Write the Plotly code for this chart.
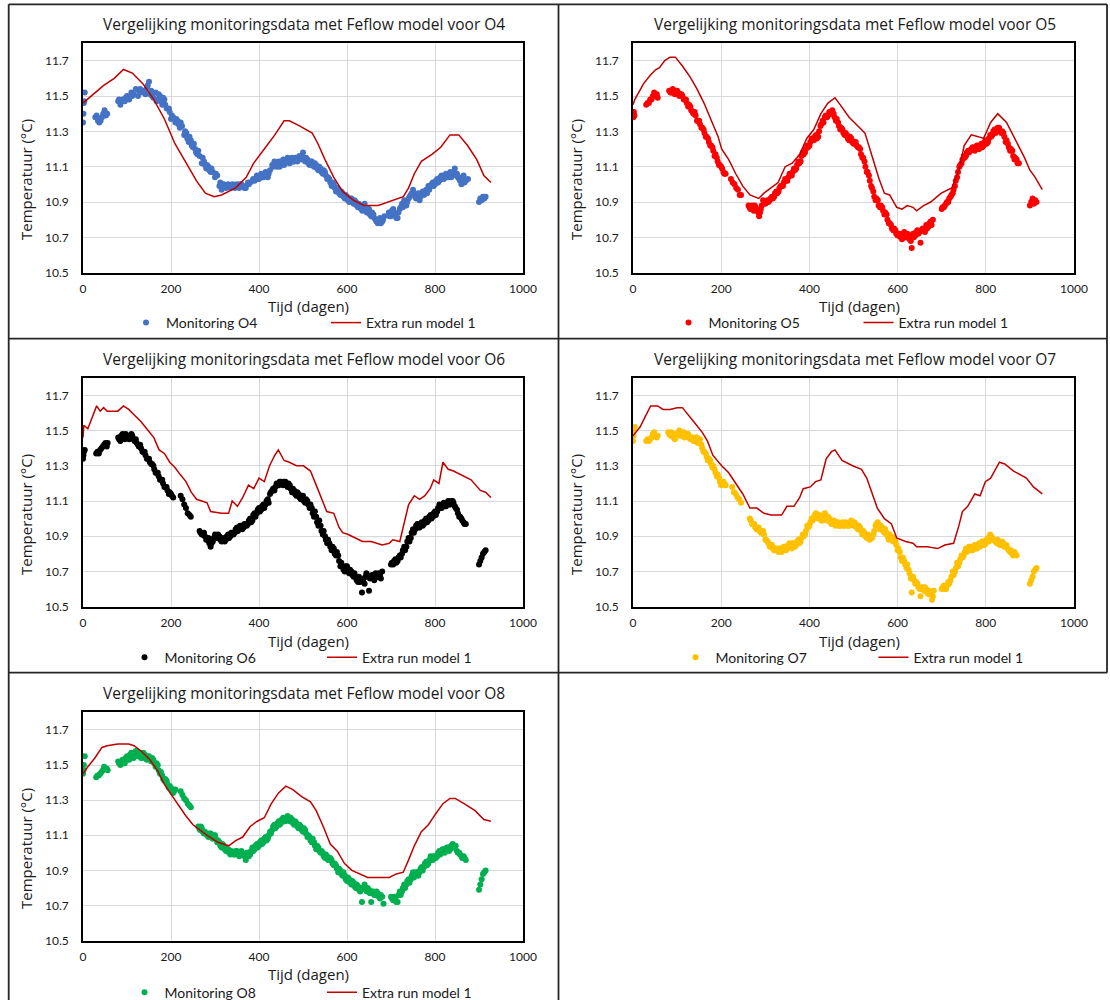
import plotly.graph_objects as go

# ---------------------------------------------------------------------------
# Data: (day, temperature in degC)
# ---------------------------------------------------------------------------
STATIONS = ["O4", "O5", "O6", "O7", "O8"]
MONITOR_COLORS = ["#4472C4", "#FF0000", "#000000", "#FFC000", "#00B050"]
MODEL_NAME = "Extra run model 1"
MODEL_COLOR = "#C00000"

X_TICKS = [0, 200, 400, 600, 800, 1000]
Y_TICKS = [10.5, 10.7, 10.9, 11.1, 11.3, 11.5, 11.7]

O4_MONITORING = [
    (0, 11.35), (1, 11.40), (2, 11.46), (3, 11.47), (4, 11.52),
    (28, 11.38), (31, 11.39), (34, 11.36), (37, 11.35), (40, 11.36), (43, 11.38),
    (46, 11.40), (49, 11.42), (52, 11.39), (55, 11.40),
    (80, 11.47), (85, 11.45), (90, 11.48), (95, 11.47), (100, 11.50), (105, 11.48),
    (110, 11.52), (115, 11.51), (120, 11.54), (125, 11.50), (130, 11.54), (135, 11.52),
    (140, 11.53), (145, 11.55), (150, 11.58), (153, 11.51), (155, 11.53), (160, 11.49),
    (165, 11.52), (170, 11.48), (175, 11.50), (180, 11.45), (185, 11.48), (190, 11.43),
    (195, 11.43), (200, 11.37), (205, 11.38), (210, 11.35), (215, 11.36), (220, 11.32),
    (225, 11.33), (230, 11.28), (235, 11.29), (240, 11.24), (245, 11.25), (250, 11.21),
    (255, 11.20), (260, 11.17), (265, 11.16), (270, 11.12), (275, 11.13), (280, 11.09),
    (285, 11.10), (290, 11.07), (295, 11.07), (300, 11.04), (305, 11.05), (310, 10.99),
    (315, 10.97), (320, 11.00), (325, 10.98), (330, 11.00), (335, 10.98), (340, 11.00),
    (345, 10.98), (350, 11.00), (355, 10.98), (360, 11.00), (365, 10.99), (370, 10.98),
    (375, 11.01), (380, 11.01), (385, 11.02), (390, 11.02), (395, 11.05), (400, 11.03),
    (405, 11.06), (410, 11.04), (415, 11.07), (420, 11.04), (425, 11.08), (430, 11.11),
    (435, 11.13), (440, 11.10), (445, 11.13), (450, 11.11), (455, 11.14), (460, 11.12),
    (465, 11.15), (470, 11.12), (475, 11.15), (480, 11.13), (485, 11.15), (490, 11.14),
    (495, 11.16), (500, 11.18), (505, 11.13), (510, 11.14), (515, 11.11), (520, 11.13),
    (525, 11.10), (530, 11.11), (535, 11.08), (540, 11.09), (545, 11.06), (550, 11.07),
    (555, 11.03), (560, 11.03), (565, 10.99), (570, 11.00), (575, 10.96), (580, 10.97),
    (585, 10.94), (590, 10.95), (595, 10.92), (600, 10.93), (605, 10.90), (610, 10.92),
    (615, 10.89), (620, 10.90), (625, 10.87), (630, 10.88), (635, 10.85), (640, 10.89),
    (645, 10.84), (650, 10.86), (655, 10.82), (660, 10.83), (665, 10.80), (670, 10.78),
    (675, 10.81), (680, 10.79), (685, 10.82),
    (695, 10.84), (700, 10.82), (705, 10.86), (710, 10.83), (715, 10.81), (720, 10.86),
    (725, 10.89), (730, 10.91), (735, 10.88), (740, 10.92), (745, 10.94), (750, 10.97),
    (755, 10.93), (760, 10.94), (765, 10.91), (770, 10.95), (775, 10.94), (780, 10.97),
    (785, 10.99), (790, 10.99), (795, 11.01), (800, 11.00), (805, 11.03), (810, 11.02),
    (815, 11.05), (820, 11.03), (825, 11.06), (830, 11.04), (835, 11.07), (840, 11.05),
    (845, 11.09), (850, 11.06), (855, 11.03), (860, 11.00), (865, 11.05), (870, 11.02),
    (875, 11.03),
    (900, 10.90), (903, 10.92), (906, 10.91), (909, 10.93), (912, 10.92), (915, 10.93),
    # in-between readings
    (82, 11.48), (97, 11.49), (112, 11.50), (127, 11.53), (142, 11.51), (147, 11.56),
    (157, 11.50), (167, 11.47), (172, 11.51), (177, 11.47), (182, 11.49), (187, 11.45),
    (197, 11.41), (202, 11.39), (212, 11.37), (217, 11.34), (222, 11.35), (232, 11.30),
    (237, 11.26), (242, 11.27), (247, 11.22), (252, 11.23), (257, 11.18), (262, 11.19),
    (272, 11.15), (277, 11.11), (282, 11.11), (287, 11.08), (292, 11.09), (302, 11.06),
    (312, 11.01), (317, 10.99), (327, 10.99), (337, 10.99), (347, 10.99), (357, 11.00),
    (367, 10.98), (377, 11.00), (387, 11.03), (397, 11.03), (407, 11.04), (417, 11.05),
    (422, 11.06), (432, 11.10), (437, 11.11), (442, 11.12), (447, 11.10), (452, 11.13),
    (457, 11.11), (462, 11.14), (467, 11.13), (472, 11.14), (477, 11.13), (482, 11.15),
    (487, 11.13), (492, 11.16), (497, 11.14), (502, 11.15), (507, 11.15), (512, 11.12),
    (517, 11.13), (522, 11.11), (527, 11.12), (532, 11.09), (537, 11.10), (542, 11.07),
    (547, 11.08), (552, 11.05), (557, 11.04), (562, 11.01), (567, 11.01), (572, 10.98),
    (577, 10.98), (582, 10.95), (587, 10.96), (592, 10.93), (597, 10.94), (602, 10.91),
    (607, 10.92), (612, 10.90), (617, 10.91), (622, 10.88), (627, 10.89), (632, 10.86),
    (637, 10.88), (642, 10.85), (647, 10.86), (652, 10.83), (657, 10.84), (662, 10.81),
    (667, 10.79), (672, 10.80), (677, 10.78), (682, 10.80), (697, 10.82), (702, 10.85),
    (707, 10.84), (712, 10.81), (717, 10.84), (722, 10.87), (727, 10.87), (732, 10.89),
    (737, 10.90), (742, 10.93), (747, 10.95), (752, 10.95), (757, 10.92), (762, 10.95),
    (767, 10.93), (772, 10.96), (777, 10.96), (782, 10.95), (787, 10.97), (792, 11.00),
    (797, 10.99), (802, 11.02), (807, 11.01), (812, 11.04), (817, 11.03), (822, 11.05),
    (827, 11.04), (832, 11.06), (837, 11.04), (842, 11.07), (847, 11.06), (852, 11.04),
    (857, 11.02), (862, 11.04), (867, 11.01),
]

O4_MODEL = [
    (0, 11.46), (47, 11.56), (71, 11.60), (92, 11.65), (112, 11.63), (136, 11.57),
    (161, 11.48), (185, 11.37), (209, 11.23), (234, 11.12), (258, 11.02), (278, 10.95),
    (298, 10.93), (315, 10.94), (347, 10.98), (371, 11.04), (388, 11.12), (412, 11.20),
    (436, 11.28), (457, 11.36), (469, 11.36), (493, 11.33), (521, 11.29), (534, 11.23),
    (550, 11.14), (570, 11.04), (590, 10.96), (615, 10.91), (639, 10.88), (671, 10.88),
    (696, 10.90), (728, 10.93), (740, 10.98), (753, 11.06), (769, 11.13), (793, 11.17),
    (813, 11.21), (834, 11.28), (854, 11.28), (874, 11.22), (895, 11.14), (911, 11.05),
    (927, 11.01),
]

O5_MONITORING = [
    (0, 11.40), (1, 11.38), (2, 11.41), (3, 11.39),
    (30, 11.45), (33, 11.46), (36, 11.46), (39, 11.48), (42, 11.48), (45, 11.50),
    (48, 11.52), (51, 11.50), (54, 11.51), (56, 11.49),
    (82, 11.53), (85, 11.52), (90, 11.54), (95, 11.51), (100, 11.53), (105, 11.50),
    (110, 11.51), (115, 11.48), (120, 11.48), (125, 11.44), (130, 11.44), (135, 11.41),
    (140, 11.41), (145, 11.36), (150, 11.36), (155, 11.32), (160, 11.31), (165, 11.27),
    (170, 11.26), (175, 11.22), (180, 11.21), (185, 11.16), (190, 11.15), (195, 11.11),
    (200, 11.10), (205, 11.07), (210, 11.06),
    (222, 11.03), (226, 11.01), (230, 11.00), (234, 10.98), (238, 10.97), (242, 10.94),
    (245, 10.94),
    (262, 10.88), (266, 10.86), (270, 10.88), (274, 10.85), (278, 10.87), (282, 10.85),
    (286, 10.82), (290, 10.86), (295, 10.91), (300, 10.89), (305, 10.91), (310, 10.91),
    (315, 10.93), (320, 10.93), (325, 10.96), (330, 10.96), (335, 10.99), (340, 10.99),
    (345, 11.03), (350, 11.02), (355, 11.06), (360, 11.05), (365, 11.09), (370, 11.09),
    (375, 11.13), (380, 11.13), (385, 11.18), (390, 11.18), (395, 11.22), (400, 11.22),
    (405, 11.26), (410, 11.25), (415, 11.28), (420, 11.27), (425, 11.33), (430, 11.36),
    (435, 11.38), (440, 11.38), (445, 11.41), (450, 11.40), (455, 11.40), (460, 11.36),
    (465, 11.35), (470, 11.31), (475, 11.31), (480, 11.28), (485, 11.28), (490, 11.25),
    (495, 11.26), (500, 11.23), (505, 11.24), (510, 11.21), (515, 11.20), (520, 11.15),
    (525, 11.13), (530, 11.07), (535, 11.05), (540, 10.99), (545, 10.96), (550, 10.91),
    (555, 10.91), (560, 10.87), (565, 10.87), (570, 10.83), (575, 10.83), (580, 10.78),
    (585, 10.77), (590, 10.74), (595, 10.74), (600, 10.71), (605, 10.72), (610, 10.69),
    (615, 10.73), (620, 10.70), (625, 10.71), (630, 10.68), (632, 10.64), (635, 10.72),
    (640, 10.71), (645, 10.74), (650, 10.73), (652, 10.67), (655, 10.74), (660, 10.74),
    (665, 10.77), (670, 10.76), (675, 10.79), (680, 10.80),
    (700, 10.86), (705, 10.87), (710, 10.89), (715, 10.90), (720, 10.93), (725, 10.95),
    (730, 10.99), (735, 11.04), (740, 11.10), (745, 11.12), (750, 11.16), (755, 11.16),
    (760, 11.19), (765, 11.19), (770, 11.21), (775, 11.19), (780, 11.22), (785, 11.20),
    (790, 11.23), (795, 11.22), (800, 11.25), (805, 11.24), (810, 11.28), (815, 11.28),
    (820, 11.31), (825, 11.30), (830, 11.32), (835, 11.29), (840, 11.29), (845, 11.24),
    (850, 11.23), (855, 11.19), (860, 11.19), (865, 11.14), (870, 11.14), (875, 11.12),
    (900, 10.88), (903, 10.90), (906, 10.92), (909, 10.89), (912, 10.91), (915, 10.90),
    # in-between readings
    (87, 11.52), (92, 11.53), (97, 11.53), (102, 11.52), (107, 11.51), (112, 11.50),
    (117, 11.48), (122, 11.46), (127, 11.45), (132, 11.42), (137, 11.40), (142, 11.39),
    (147, 11.36), (152, 11.34), (157, 11.32), (162, 11.29), (167, 11.27), (172, 11.24),
    (177, 11.22), (182, 11.19), (187, 11.17), (192, 11.13), (197, 11.11), (202, 11.09),
    (207, 11.06),
    (264, 10.87), (268, 10.87), (272, 10.86), (276, 10.88), (280, 10.86), (284, 10.84),
    (288, 10.84), (292, 10.88), (297, 10.90), (302, 10.90), (307, 10.90), (312, 10.92),
    (317, 10.92), (322, 10.95), (327, 10.95), (332, 10.98), (337, 10.99), (342, 11.01),
    (347, 11.02), (352, 11.04), (357, 11.05), (362, 11.07), (367, 11.08), (372, 11.11),
    (377, 11.12), (382, 11.16), (387, 11.17), (392, 11.20), (397, 11.21), (402, 11.24),
    (407, 11.25), (412, 11.27), (417, 11.26), (422, 11.30), (427, 11.34), (432, 11.35),
    (437, 11.39), (442, 11.39), (447, 11.40), (452, 11.42), (457, 11.38), (462, 11.37),
    (467, 11.33), (472, 11.32), (477, 11.29), (482, 11.29), (487, 11.26), (492, 11.27),
    (497, 11.24), (502, 11.24), (507, 11.22), (512, 11.21), (517, 11.17), (522, 11.15),
    (527, 11.10), (532, 11.07), (537, 11.02), (542, 10.98), (547, 10.93), (552, 10.92),
    (557, 10.88), (562, 10.88), (567, 10.85), (572, 10.84), (577, 10.80), (582, 10.78),
    (587, 10.75), (592, 10.75), (597, 10.72), (602, 10.72), (607, 10.70), (612, 10.71),
    (617, 10.70), (622, 10.72), (627, 10.69), (637, 10.70), (642, 10.73), (647, 10.72),
    (657, 10.75), (662, 10.73), (667, 10.75), (672, 10.78), (677, 10.77),
    (702, 10.87), (707, 10.88), (712, 10.90), (717, 10.92), (722, 10.94), (727, 10.97),
    (732, 11.02), (737, 11.07), (742, 11.11), (747, 11.14), (752, 11.15), (757, 11.18),
    (762, 11.18), (767, 11.20), (772, 11.20), (777, 11.21), (782, 11.20), (787, 11.22),
    (792, 11.21), (797, 11.24), (802, 11.23), (807, 11.26), (812, 11.27), (817, 11.30),
    (822, 11.29), (827, 11.32), (832, 11.30), (837, 11.30), (842, 11.27), (847, 11.25),
    (852, 11.21), (857, 11.20), (862, 11.16), (867, 11.15), (872, 11.12),
]

O5_MODEL = [
    (0, 11.45), (4, 11.48), (24, 11.57), (40, 11.62), (52, 11.65), (60, 11.66),
    (72, 11.70), (84, 11.72), (96, 11.72), (112, 11.67), (129, 11.61), (145, 11.54),
    (161, 11.46), (177, 11.37), (193, 11.27), (201, 11.20), (217, 11.14), (233, 11.06),
    (249, 10.99), (265, 10.94), (277, 10.93), (285, 10.92), (297, 10.95), (313, 10.98),
    (329, 11.01), (345, 11.10), (361, 11.12), (378, 11.17), (394, 11.26), (410, 11.31),
    (426, 11.40), (442, 11.46), (458, 11.49), (470, 11.45), (490, 11.38), (514, 11.32),
    (526, 11.29), (542, 11.16), (558, 11.03), (570, 10.95), (582, 10.94), (598, 10.87),
    (610, 10.86), (622, 10.88), (635, 10.87), (643, 10.85), (659, 10.88), (675, 10.90),
    (699, 10.95), (723, 10.98), (739, 11.08), (751, 11.22), (767, 11.28), (783, 11.27),
    (795, 11.26), (811, 11.35), (827, 11.40), (847, 11.35), (867, 11.25), (888, 11.15),
    (900, 11.08), (912, 11.04), (928, 10.97),
]

O6_MONITORING = [
    (0, 11.34), (1, 11.36), (2, 11.38), (4, 11.39),
    (30, 11.37), (33, 11.38), (36, 11.37), (39, 11.39), (42, 11.40), (45, 11.41),
    (48, 11.42), (51, 11.43), (54, 11.41), (56, 11.43),
    (80, 11.46), (85, 11.44), (90, 11.48), (95, 11.45), (100, 11.47), (105, 11.45),
    (110, 11.48), (115, 11.45), (120, 11.45), (125, 11.42), (130, 11.42), (135, 11.38),
    (140, 11.38), (145, 11.34), (150, 11.34), (155, 11.31), (160, 11.30), (165, 11.26),
    (170, 11.26), (175, 11.22), (180, 11.22), (185, 11.18), (190, 11.18), (195, 11.14),
    (200, 11.14), (205, 11.12),
    (222, 11.13), (226, 11.11), (230, 11.08), (234, 11.06), (238, 11.03), (242, 11.02),
    (245, 11.01),
    (265, 10.93), (270, 10.91), (275, 10.92), (280, 10.88), (285, 10.89), (290, 10.84),
    (295, 10.87), (300, 10.91), (305, 10.89), (310, 10.90), (315, 10.87), (320, 10.88),
    (325, 10.88), (330, 10.91), (335, 10.90), (340, 10.92), (345, 10.92), (350, 10.95),
    (355, 10.94), (360, 10.96), (365, 10.95), (370, 10.97), (375, 10.97), (380, 11.00),
    (385, 10.99), (390, 11.03), (395, 11.03), (400, 11.06), (405, 11.05), (410, 11.08),
    (415, 11.08), (420, 11.11), (425, 11.14), (430, 11.16), (435, 11.16), (440, 11.20),
    (445, 11.19), (450, 11.21), (455, 11.19), (460, 11.21), (465, 11.18), (470, 11.19),
    (475, 11.15), (480, 11.16), (485, 11.13), (490, 11.14), (495, 11.11), (500, 11.13),
    (505, 11.09), (510, 11.10), (515, 11.06), (520, 11.06), (525, 11.01), (530, 11.01),
    (535, 10.96), (540, 10.96), (545, 10.91), (550, 10.90), (555, 10.86), (560, 10.86),
    (565, 10.82), (570, 10.83), (575, 10.79), (580, 10.79), (585, 10.73), (590, 10.73),
    (595, 10.70), (600, 10.73), (605, 10.69), (610, 10.70), (615, 10.67), (620, 10.67),
    (625, 10.64), (630, 10.64), (634, 10.58), (638, 10.66), (642, 10.67), (646, 10.68),
    (650, 10.59), (655, 10.67), (660, 10.66), (665, 10.69), (670, 10.67), (675, 10.68),
    (680, 10.70),
    (700, 10.74), (705, 10.74), (710, 10.77), (715, 10.76), (720, 10.79), (725, 10.80),
    (730, 10.84), (735, 10.84), (740, 10.89), (745, 10.89), (750, 10.94), (755, 10.94),
    (760, 10.97), (765, 10.95), (770, 10.98), (775, 10.97), (780, 11.00), (785, 10.99),
    (790, 11.02), (795, 11.01), (800, 11.04), (805, 11.04), (810, 11.08), (815, 11.06),
    (820, 11.09), (825, 11.07), (830, 11.10), (835, 11.08), (840, 11.10), (845, 11.07),
    (850, 11.05), (855, 11.01), (860, 11.00), (865, 10.98), (870, 10.97),
    (900, 10.74), (903, 10.76), (906, 10.78), (909, 10.80), (912, 10.81), (915, 10.82),
    # in-between readings
    (82, 11.45), (87, 11.47), (92, 11.46), (97, 11.48), (102, 11.46), (107, 11.47),
    (112, 11.47), (117, 11.44), (122, 11.43), (127, 11.41), (132, 11.40), (137, 11.38),
    (142, 11.36), (147, 11.34), (152, 11.32), (157, 11.31), (162, 11.28), (167, 11.26),
    (172, 11.24), (177, 11.22), (182, 11.20), (187, 11.18), (192, 11.16), (197, 11.15),
    (202, 11.13),
    (267, 10.92), (272, 10.91), (277, 10.90), (282, 10.88), (287, 10.86), (292, 10.86),
    (297, 10.89), (302, 10.90), (307, 10.91), (312, 10.88), (317, 10.89), (322, 10.87),
    (327, 10.90), (332, 10.89), (337, 10.92), (342, 10.91), (347, 10.94), (352, 10.93),
    (357, 10.96), (362, 10.94), (367, 10.97), (372, 10.96), (377, 10.99), (382, 10.98),
    (387, 11.02), (392, 11.01), (397, 11.05), (402, 11.04), (407, 11.07), (412, 11.06),
    (417, 11.10), (422, 11.09), (427, 11.15), (432, 11.17), (437, 11.18), (442, 11.19),
    (447, 11.21), (452, 11.20), (457, 11.21), (462, 11.19), (467, 11.20), (472, 11.17),
    (477, 11.17), (482, 11.14), (487, 11.15), (492, 11.12), (497, 11.13), (502, 11.10),
    (507, 11.11), (512, 11.08), (517, 11.08), (522, 11.03), (527, 11.04), (532, 10.98),
    (537, 10.99), (542, 10.93), (547, 10.93), (552, 10.88), (557, 10.88), (562, 10.84),
    (567, 10.84), (572, 10.80), (577, 10.81), (582, 10.76), (587, 10.75), (592, 10.71),
    (597, 10.73), (602, 10.70), (607, 10.71), (612, 10.68), (617, 10.69), (622, 10.65),
    (627, 10.67), (632, 10.65), (640, 10.63), (644, 10.69), (652, 10.66), (657, 10.68),
    (662, 10.65), (667, 10.67), (672, 10.69), (677, 10.66),
    (702, 10.75), (707, 10.76), (712, 10.75), (717, 10.78), (722, 10.78), (727, 10.82),
    (732, 10.82), (737, 10.87), (742, 10.87), (747, 10.92), (752, 10.92), (757, 10.96),
    (762, 10.95), (767, 10.97), (772, 10.96), (777, 10.99), (782, 10.98), (787, 11.01),
    (792, 11.00), (797, 11.03), (802, 11.02), (807, 11.06), (812, 11.06), (817, 11.08),
    (822, 11.07), (827, 11.09), (832, 11.08), (837, 11.10), (842, 11.09), (847, 11.06),
    (852, 11.03), (857, 11.01), (862, 10.99), (867, 10.97),
]

O6_MODEL = [
    (0, 11.46), (2, 11.53), (11, 11.51), (23, 11.59), (31, 11.64), (39, 11.61),
    (47, 11.63), (55, 11.61), (79, 11.61), (92, 11.64), (104, 11.62), (116, 11.59),
    (132, 11.55), (148, 11.50), (161, 11.46), (173, 11.39), (185, 11.37), (197, 11.32),
    (209, 11.29), (221, 11.25), (234, 11.21), (246, 11.15), (258, 11.11), (270, 11.10),
    (282, 11.09), (290, 11.04), (315, 11.03), (331, 11.03), (339, 11.10), (351, 11.07),
    (363, 11.12), (376, 11.19), (388, 11.17), (400, 11.23), (412, 11.21), (424, 11.30),
    (436, 11.36), (444, 11.39), (457, 11.33), (469, 11.32), (485, 11.30), (501, 11.30),
    (517, 11.27), (530, 11.19), (542, 11.12), (554, 11.04), (570, 11.03), (582, 10.95),
    (590, 10.92), (603, 10.91), (619, 10.89), (635, 10.87), (655, 10.87), (680, 10.85),
    (696, 10.86), (704, 10.88), (720, 10.87), (728, 10.96), (740, 11.08), (753, 11.13),
    (765, 11.11), (777, 11.13), (789, 11.17), (797, 11.22), (809, 11.20), (818, 11.32),
    (830, 11.28), (842, 11.27), (858, 11.25), (882, 11.22), (903, 11.16), (915, 11.15),
    (927, 11.12),
]

O7_MONITORING = [
    (0, 11.44), (1, 11.47), (2, 11.50), (4, 11.52),
    (30, 11.44), (33, 11.45), (36, 11.44), (39, 11.45), (42, 11.46), (45, 11.48),
    (48, 11.49), (51, 11.47), (54, 11.46), (56, 11.47),
    (80, 11.49), (85, 11.47), (90, 11.48), (95, 11.45), (100, 11.47), (105, 11.50),
    (110, 11.47), (115, 11.49), (120, 11.47), (125, 11.48), (130, 11.45), (135, 11.46),
    (140, 11.44), (145, 11.46), (150, 11.43), (155, 11.42), (160, 11.38), (165, 11.37),
    (170, 11.33), (175, 11.33), (180, 11.29), (185, 11.28), (190, 11.24), (195, 11.23),
    (200, 11.19), (205, 11.21), (210, 11.19),
    (225, 11.18), (229, 11.15), (233, 11.14), (237, 11.12), (241, 11.11), (245, 11.09),
    (265, 11.00), (270, 10.97), (275, 10.97), (280, 10.94), (285, 10.95), (290, 10.92),
    (295, 10.93), (300, 10.88), (305, 10.87), (310, 10.84), (315, 10.85), (320, 10.82),
    (325, 10.83), (330, 10.81), (335, 10.83), (340, 10.82), (345, 10.84), (350, 10.83),
    (355, 10.86), (360, 10.83), (365, 10.86), (370, 10.85), (375, 10.88), (380, 10.87),
    (385, 10.91), (390, 10.91), (395, 10.96), (400, 10.96), (405, 11.00), (410, 11.00),
    (415, 11.03), (420, 11.00), (425, 11.01), (430, 10.99), (435, 11.03), (440, 10.99),
    (445, 11.00), (450, 10.97), (455, 10.99), (460, 10.96), (465, 10.98), (470, 10.96),
    (475, 10.98), (480, 10.96), (485, 10.97), (490, 10.96), (495, 10.99), (500, 10.96),
    (505, 10.97), (510, 10.94), (515, 10.95), (520, 10.91), (525, 10.92), (530, 10.89),
    (535, 10.90), (540, 10.90), (545, 10.91), (550, 10.96), (555, 10.98), (560, 10.94),
    (565, 10.95), (570, 10.92), (575, 10.92), (580, 10.88), (585, 10.90), (590, 10.87),
    (595, 10.87), (600, 10.82), (605, 10.81), (610, 10.76), (615, 10.76), (620, 10.72),
    (625, 10.71), (630, 10.66), (632, 10.58), (635, 10.67), (640, 10.63), (645, 10.63),
    (650, 10.60), (652, 10.56), (655, 10.61), (660, 10.59), (665, 10.60), (670, 10.57),
    (675, 10.57), (678, 10.54), (682, 10.59),
    (700, 10.60), (705, 10.62), (710, 10.60), (715, 10.64), (720, 10.65), (725, 10.70),
    (730, 10.70), (735, 10.75), (740, 10.75), (745, 10.79), (750, 10.79), (755, 10.83),
    (760, 10.82), (765, 10.84), (770, 10.82), (775, 10.85), (780, 10.83), (785, 10.86),
    (790, 10.85), (795, 10.87), (800, 10.86), (805, 10.89), (810, 10.91), (815, 10.89),
    (820, 10.88), (825, 10.86), (830, 10.87), (835, 10.85), (840, 10.86), (845, 10.84),
    (850, 10.83), (855, 10.81), (860, 10.80), (865, 10.81), (870, 10.79),
    (900, 10.63), (903, 10.65), (906, 10.67), (909, 10.70), (912, 10.71), (915, 10.72),
    # in-between readings
    (82, 11.48), (87, 11.49), (92, 11.46), (97, 11.48), (102, 11.48), (107, 11.47),
    (112, 11.49), (117, 11.46), (122, 11.48), (127, 11.46), (132, 11.46), (137, 11.44),
    (142, 11.46), (147, 11.43), (152, 11.45), (157, 11.40), (162, 11.38), (167, 11.35),
    (172, 11.34), (177, 11.31), (182, 11.30), (187, 11.26), (192, 11.25), (197, 11.21),
    (202, 11.21), (207, 11.20),
    (267, 10.99), (272, 10.97), (277, 10.95), (282, 10.95), (287, 10.93), (292, 10.93),
    (297, 10.91), (302, 10.88), (307, 10.86), (312, 10.85), (317, 10.83), (322, 10.83),
    (327, 10.82), (332, 10.83), (337, 10.81), (342, 10.84), (347, 10.82), (352, 10.85),
    (357, 10.84), (362, 10.86), (367, 10.84), (372, 10.87), (377, 10.86), (382, 10.89),
    (387, 10.90), (392, 10.93), (397, 10.95), (402, 10.98), (407, 10.99), (412, 11.02),
    (417, 11.01), (422, 11.02), (427, 10.99), (432, 11.02), (437, 11.00), (442, 11.01),
    (447, 10.98), (452, 10.99), (457, 10.97), (462, 10.98), (467, 10.96), (472, 10.97),
    (477, 10.96), (482, 10.98), (487, 10.96), (492, 10.98), (497, 10.97), (502, 10.98),
    (507, 10.95), (512, 10.96), (517, 10.93), (522, 10.93), (527, 10.90), (532, 10.91),
    (537, 10.88), (542, 10.89), (547, 10.93), (552, 10.97), (557, 10.96), (562, 10.96),
    (567, 10.93), (572, 10.94), (577, 10.90), (582, 10.91), (587, 10.88), (592, 10.89),
    (597, 10.85), (602, 10.83), (607, 10.78), (612, 10.78), (617, 10.74), (622, 10.74),
    (627, 10.69), (637, 10.65), (642, 10.64), (647, 10.61), (657, 10.60), (662, 10.61),
    (667, 10.58), (672, 10.59), (680, 10.56),
    (702, 10.61), (707, 10.60), (712, 10.62), (717, 10.63), (722, 10.67), (727, 10.68),
    (732, 10.72), (737, 10.73), (742, 10.77), (747, 10.78), (752, 10.81), (757, 10.81),
    (762, 10.84), (767, 10.82), (772, 10.84), (777, 10.83), (782, 10.85), (787, 10.84),
    (792, 10.87), (797, 10.85), (802, 10.88), (807, 10.87), (812, 10.90), (817, 10.88),
    (822, 10.87), (827, 10.88), (832, 10.85), (837, 10.87), (842, 10.84), (847, 10.85),
    (852, 10.82), (857, 10.82), (862, 10.79), (867, 10.80),
]

O7_MODEL = [
    (0, 11.47), (16, 11.52), (28, 11.58), (40, 11.64), (56, 11.64), (68, 11.62),
    (84, 11.62), (100, 11.63), (112, 11.63), (124, 11.59), (141, 11.54), (157, 11.49),
    (169, 11.44), (181, 11.36), (193, 11.32), (201, 11.30), (217, 11.26), (233, 11.20),
    (249, 11.14), (265, 11.06), (281, 11.06), (297, 11.03), (313, 11.02), (337, 11.02),
    (349, 11.07), (365, 11.07), (378, 11.12), (386, 11.17), (402, 11.18), (414, 11.21),
    (426, 11.22), (438, 11.34), (450, 11.38), (458, 11.39), (474, 11.33), (498, 11.30),
    (518, 11.28), (530, 11.23), (542, 11.14), (554, 11.06), (570, 11.00), (586, 10.97),
    (598, 10.89), (618, 10.87), (635, 10.86), (643, 10.84), (667, 10.84), (691, 10.83),
    (707, 10.85), (727, 10.86), (739, 10.96), (747, 11.04), (759, 11.07), (775, 11.14),
    (787, 11.13), (799, 11.21), (811, 11.23), (831, 11.32), (843, 11.31), (863, 11.27),
    (892, 11.23), (908, 11.18), (928, 11.14),
]

O8_MONITORING = [
    (0, 11.45), (1, 11.47), (2, 11.50), (4, 11.55),
    (30, 11.43), (33, 11.44), (36, 11.44), (39, 11.45), (42, 11.46), (45, 11.47),
    (48, 11.49), (51, 11.48), (54, 11.48), (56, 11.47),
    (80, 11.52), (85, 11.50), (90, 11.53), (95, 11.51), (100, 11.55), (105, 11.53),
    (110, 11.57), (115, 11.54), (120, 11.58), (125, 11.55), (130, 11.56), (135, 11.54),
    (140, 11.56), (145, 11.53), (150, 11.55), (155, 11.52), (160, 11.53), (165, 11.49),
    (170, 11.50), (175, 11.45), (180, 11.44), (185, 11.41), (190, 11.41), (195, 11.37),
    (200, 11.37), (205, 11.34), (210, 11.36),
    (222, 11.35), (226, 11.33), (230, 11.31), (234, 11.30), (238, 11.28), (242, 11.27),
    (245, 11.26),
    (262, 11.15), (266, 11.13), (270, 11.14), (275, 11.11), (280, 11.11), (285, 11.09),
    (290, 11.11), (295, 11.08), (300, 11.10), (305, 11.06), (310, 11.06), (315, 11.03),
    (320, 11.04), (325, 11.01), (330, 11.02), (335, 10.99), (340, 11.00), (345, 10.99),
    (350, 11.01), (355, 10.98), (360, 11.01), (365, 10.99), (370, 10.96), (375, 11.00),
    (380, 10.99), (385, 11.03), (390, 11.02), (395, 11.05), (400, 11.04), (405, 11.07),
    (410, 11.06), (415, 11.09), (420, 11.08), (425, 11.12), (430, 11.13), (435, 11.16),
    (440, 11.15), (445, 11.18), (450, 11.17), (455, 11.20), (460, 11.18), (465, 11.21),
    (470, 11.18), (475, 11.19), (480, 11.16), (485, 11.17), (490, 11.14), (495, 11.15),
    (500, 11.12), (505, 11.13), (510, 11.09), (515, 11.09), (520, 11.06), (525, 11.06),
    (530, 11.02), (535, 11.03), (540, 11.00), (545, 11.00), (550, 10.97), (555, 10.98),
    (560, 10.96), (565, 10.96), (570, 10.93), (575, 10.93), (580, 10.89), (585, 10.90),
    (590, 10.87), (595, 10.87), (600, 10.84), (605, 10.85), (610, 10.82), (615, 10.83),
    (620, 10.80), (625, 10.81), (630, 10.78), (634, 10.72), (640, 10.82), (645, 10.78),
    (650, 10.79), (655, 10.72), (660, 10.78), (665, 10.76), (670, 10.77), (675, 10.74),
    (680, 10.75), (683, 10.71),
    (700, 10.75), (705, 10.73), (710, 10.74), (715, 10.72), (720, 10.78), (725, 10.78),
    (730, 10.82), (735, 10.82), (740, 10.85), (745, 10.85), (750, 10.89), (755, 10.87),
    (760, 10.89), (765, 10.89), (770, 10.92), (775, 10.92), (780, 10.95), (785, 10.94),
    (790, 10.98), (795, 10.96), (800, 10.98), (805, 10.98), (810, 11.01), (815, 11.00),
    (820, 11.02), (825, 11.01), (830, 11.03), (835, 11.02), (840, 11.05), (845, 11.04),
    (850, 11.01), (855, 11.00), (860, 10.98), (865, 10.98), (870, 10.96),
    (900, 10.79), (903, 10.82), (906, 10.85), (909, 10.88), (912, 10.89), (915, 10.90),
    # in-between readings
    (82, 11.51), (87, 11.52), (92, 11.51), (97, 11.54), (102, 11.53), (107, 11.56),
    (112, 11.55), (117, 11.57), (122, 11.56), (127, 11.57), (132, 11.54), (137, 11.57),
    (142, 11.54), (147, 11.55), (152, 11.53), (157, 11.54), (162, 11.51), (167, 11.51),
    (172, 11.47), (177, 11.46), (182, 11.42), (187, 11.42), (192, 11.39), (197, 11.38),
    (202, 11.35), (207, 11.35),
    (264, 11.14), (268, 11.15), (272, 11.12), (277, 11.12), (282, 11.10), (287, 11.11),
    (292, 11.09), (297, 11.10), (302, 11.08), (307, 11.07), (312, 11.04), (317, 11.05),
    (322, 11.02), (327, 11.02), (332, 11.00), (337, 11.01), (342, 10.99), (347, 11.01),
    (352, 10.99), (357, 11.00), (362, 10.99), (367, 10.98), (372, 11.00), (377, 10.98),
    (382, 11.01), (387, 11.01), (392, 11.04), (397, 11.03), (402, 11.06), (407, 11.05),
    (412, 11.08), (417, 11.07), (422, 11.10), (427, 11.11), (432, 11.15), (437, 11.14),
    (442, 11.17), (447, 11.16), (452, 11.19), (457, 11.18), (462, 11.20), (467, 11.19),
    (472, 11.20), (477, 11.17), (482, 11.18), (487, 11.15), (492, 11.16), (497, 11.13),
    (502, 11.14), (507, 11.11), (512, 11.10), (517, 11.07), (522, 11.08), (527, 11.04),
    (532, 11.04), (537, 11.01), (542, 11.01), (547, 10.98), (552, 10.99), (557, 10.96),
    (562, 10.97), (567, 10.94), (572, 10.94), (577, 10.91), (582, 10.91), (587, 10.88),
    (592, 10.89), (597, 10.85), (602, 10.86), (607, 10.83), (612, 10.84), (617, 10.81),
    (622, 10.82), (627, 10.79), (632, 10.80), (637, 10.80), (642, 10.79), (647, 10.80),
    (652, 10.77), (657, 10.78), (662, 10.76), (667, 10.78), (672, 10.75), (677, 10.76),
    (702, 10.74), (707, 10.75), (712, 10.72), (717, 10.76), (722, 10.76), (727, 10.80),
    (732, 10.80), (737, 10.84), (742, 10.83), (747, 10.87), (752, 10.86), (757, 10.89),
    (762, 10.87), (767, 10.91), (772, 10.90), (777, 10.94), (782, 10.93), (787, 10.96),
    (792, 10.96), (797, 10.98), (802, 10.97), (807, 11.00), (812, 10.99), (817, 11.02),
    (822, 11.00), (827, 11.03), (832, 11.01), (837, 11.04), (842, 11.03), (847, 11.04),
    (852, 11.00), (857, 10.99), (862, 10.97), (867, 10.97),
]

O8_MODEL = [
    (0, 11.45), (11, 11.49), (27, 11.54), (43, 11.60), (55, 11.61), (79, 11.62),
    (104, 11.62), (116, 11.61), (132, 11.58), (152, 11.53), (169, 11.47), (185, 11.39),
    (201, 11.33), (217, 11.27), (234, 11.21), (250, 11.16), (266, 11.13), (282, 11.10),
    (307, 11.06), (331, 11.04), (347, 11.07), (363, 11.09), (380, 11.15), (396, 11.18),
    (412, 11.20), (428, 11.28), (444, 11.34), (461, 11.38), (477, 11.36), (497, 11.32),
    (517, 11.29), (530, 11.24), (546, 11.15), (562, 11.05), (578, 11.01), (594, 10.94),
    (611, 10.90), (631, 10.88), (647, 10.86), (671, 10.86), (696, 10.86), (712, 10.88),
    (728, 10.89), (740, 10.96), (753, 11.04), (769, 11.12), (785, 11.16), (801, 11.22),
    (818, 11.28), (834, 11.31), (846, 11.31), (866, 11.28), (891, 11.24), (911, 11.19),
    (927, 11.18),
]

MONITORING = [O4_MONITORING, O5_MONITORING, O6_MONITORING, O7_MONITORING, O8_MONITORING]
MODELS = [O4_MODEL, O5_MODEL, O6_MODEL, O7_MODEL, O8_MODEL]

# ---------------------------------------------------------------------------
# Page geometry (pixels on a 1110 x 1000 page)
# ---------------------------------------------------------------------------
W, H = 1110, 1000
FONT = "Lato, 'Open Sans', sans-serif"
TITLE_FONT = "'Open Sans', Lato, sans-serif"
TEXT = "#1a1a1a"


def fx(px):
    return px / W


def fy(py):
    return 1 - py / H


# plot box (left, top, right, bottom) plus anchors for titles and legend;
# legend = (left edge of first entry, vertical centre), gap = start-to-start
# distance between the two legend entries
PANELS = [
    dict(box=(83, 43, 523, 272.7), title=(304, 24), ytitle=(26, 180), xtitle=(308, 306),
         legend=(126, 323), gap=201),
    dict(box=(633, 43, 1074, 272.7), title=(855, 24), ytitle=(576, 180), xtitle=(859, 306),
         legend=(668.5, 323), gap=191),
    dict(box=(83, 377.7, 523, 606.7), title=(304, 359), ytitle=(26, 515), xtitle=(308, 641),
         legend=(124.5, 657.7), gap=198.5),
    dict(box=(633, 377.7, 1074, 606.7), title=(855, 359), ytitle=(576, 515), xtitle=(859, 641),
         legend=(675.5, 657.7), gap=199),
    dict(box=(83, 712.3, 523, 940.7), title=(304, 693), ytitle=(26, 849), xtitle=(308, 974),
         legend=(124.5, 992.7), gap=198.5),
]

fig = go.Figure()
layout = dict(
    width=W, height=H,
    margin=dict(l=0, r=0, t=0, b=0, autoexpand=False),
    paper_bgcolor="white", plot_bgcolor="white",
    font=dict(family=FONT, color=TEXT, size=12),
    showlegend=True,
)
annotations = []
shapes = []

for i, (station, color, mon, mod, p) in enumerate(
        zip(STATIONS, MONITOR_COLORS, MONITORING, MODELS, PANELS)):
    n = "" if i == 0 else str(i + 1)
    lg = "legend" + n
    l, t, r, b = p["box"]

    fig.add_trace(go.Scatter(
        x=[d for d, _ in mon], y=[v for _, v in mon],
        mode="markers", name=f"Monitoring {station}",
        marker=dict(color=color, size=6, line=dict(width=0)),
        xaxis="x" + n, yaxis="y" + n, legend=lg,
    ))
    fig.add_trace(go.Scatter(
        x=[d for d, _ in mod], y=[v for _, v in mod],
        mode="lines", name=MODEL_NAME,
        line=dict(color=MODEL_COLOR, width=1.5),
        xaxis="x" + n, yaxis="y" + n, legend=lg,
    ))

    layout["xaxis" + n] = dict(
        domain=[fx(l), fx(r)], anchor="y" + n, range=[0, 1000],
        tickvals=X_TICKS, ticktext=[str(v) for v in X_TICKS],
        showgrid=True, gridcolor="#d9d9d9", gridwidth=1.3, zeroline=False,
        showline=True, mirror=True, linecolor="#000000", linewidth=1.8,
        ticks="outside", ticklen=4, tickcolor="rgba(0,0,0,0)",
        tickfont=dict(size=12, color=TEXT, family=FONT),
    )
    layout["yaxis" + n] = dict(
        domain=[fy(b), fy(t)], anchor="x" + n, range=[10.5, 11.8],
        tickvals=Y_TICKS, ticktext=[f"{v:.1f}" for v in Y_TICKS],
        showgrid=True, gridcolor="#d9d9d9", gridwidth=1.3, zeroline=False,
        showline=True, mirror=True, linecolor="#000000", linewidth=1.8,
        ticks="outside", ticklen=10, tickcolor="rgba(0,0,0,0)",
        tickfont=dict(size=12, color=TEXT, family=FONT),
    )
    layout[lg] = dict(
        orientation="h", x=fx(p["legend"][0]), y=fy(p["legend"][1]),
        xanchor="left", yanchor="middle", xref="paper", yref="paper",
        entrywidth=p["gap"] - 46, entrywidthmode="pixels",
        font=dict(size=14, color=TEXT, family=FONT),
        bgcolor="rgba(0,0,0,0)", borderwidth=0, itemwidth=30,
    )

    annotations.append(dict(
        text=f"Vergelijking monitoringsdata met Feflow model voor {station}",
        x=fx(p["title"][0]), y=fy(p["title"][1]), xref="paper", yref="paper",
        xanchor="center", yanchor="middle", showarrow=False,
        font=dict(size=15.5, color=TEXT, family=TITLE_FONT),
    ))
    annotations.append(dict(
        text="Temperatuur (°C)", textangle=-90,
        x=fx(p["ytitle"][0]), y=fy(p["ytitle"][1]), xref="paper", yref="paper",
        xanchor="center", yanchor="middle", showarrow=False,
        font=dict(size=15, color=TEXT, family=TITLE_FONT),
    ))
    annotations.append(dict(
        text="Tijd (dagen)",
        x=fx(p["xtitle"][0]), y=fy(p["xtitle"][1]), xref="paper", yref="paper",
        xanchor="center", yanchor="middle", showarrow=False,
        font=dict(size=15, color=TEXT, family=TITLE_FONT),
    ))

# Panel frames
BORDER = dict(color="#262626", width=1.8)
for (x0, y0, x1, y1) in [
    (8.7, 4.3, 1107, 4.3), (8.7, 338.7, 1107, 338.7), (8.7, 672.7, 1107, 672.7),
    (8.7, 4.3, 8.7, 1000), (558.5, 4.3, 558.5, 1000), (1107, 4.3, 1107, 672.7),
]:
    shapes.append(dict(type="line", xref="paper", yref="paper",
                       x0=fx(x0), y0=fy(y0), x1=fx(x1), y1=fy(y1), line=BORDER))

layout["annotations"] = annotations
layout["shapes"] = shapes
fig.update_layout(**layout)

fig.write_html("out.html")
